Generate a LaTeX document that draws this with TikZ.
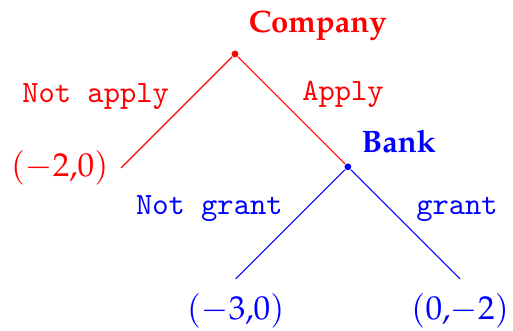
\documentclass[tikz,border=0pt]{standalone}
\usepackage[T1]{fontenc}
\usepackage{mathpazo}
\renewcommand{\ttdefault}{lmtt}
\usetikzlibrary{positioning}
\tikzset{
  dec/.style={circle, fill, inner sep=0pt, minimum size=2.2pt},
  player/.style={font=\bfseries},
  move/.style={font={\fontencoding{TU}\ttfamily}, midway, yshift=-2.6pt},
  payoff/.style={font=\fontsize{10.7}{13}\selectfont},
  branch/.style={line width=0.35pt}
}

\begin{document}
\begin{tikzpicture}
  \useasboundingbox (-2.665,-3.141) rectangle (3.152,0.612);
  % decision nodes
  \node[dec, red, label={[player, red]above right:Company}] (comp) at (0,0) {};
  \node[dec, blue, below right=1.215cm and 1.215cm of comp,
        label={[player, blue]above right:Bank}] (bank) {};
  % end points
  \coordinate[below left=1.26cm and 1.26cm of comp] (noapp);
  \coordinate[below left=1.24cm and 1.24cm of bank] (nogr);
  \coordinate[below right=1.24cm and 1.24cm of bank] (gr);
  % payoffs
  \node[payoff, red, left=0.5pt of noapp] (p1) {$(-2{,}0)$};
  \node[payoff, blue, below=1.2pt of nogr] (p2) {$(-3{,}0)$};
  \node[payoff, blue, below=1.2pt of gr] (p3) {$(0{,}{-2})$};
  % branches
  \draw[branch, red] (comp) -- node[move, above left, xshift=1pt] {Not apply} (noapp);
  \draw[branch, red] (comp) -- node[move, above right] {Apply} (bank);
  \draw[branch, blue] (bank) -- node[move, above left, xshift=1pt] {Not grant} (nogr);
  \draw[branch, blue] (bank) -- node[move, above right] {grant} (gr);
\end{tikzpicture}
\end{document}
